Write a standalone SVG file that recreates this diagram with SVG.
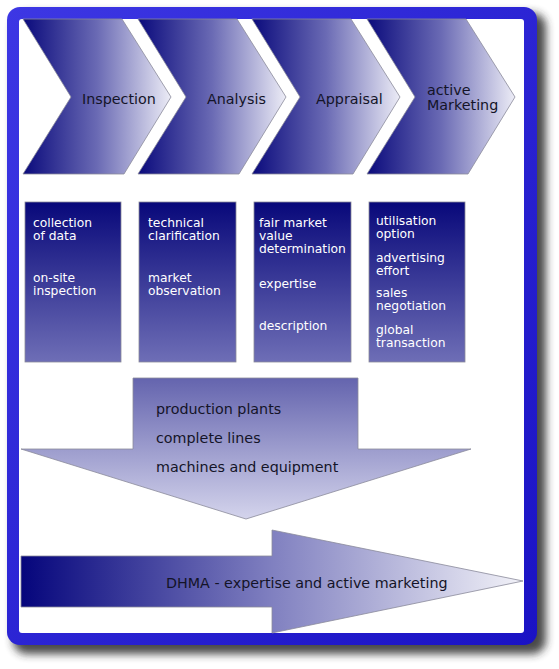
<svg xmlns="http://www.w3.org/2000/svg" width="559" height="669" viewBox="0 0 559 669">
<style>
.t{font-family:"DejaVu Sans","Verdana",sans-serif;font-size:14.3px;fill:#141428}
.b{font-family:"DejaVu Sans","Verdana",sans-serif;font-size:12.3px;fill:#ffffff}
.chev{fill:url(#gChev);stroke:#8a8a9a;stroke-width:0.8}
.box{fill:url(#gBox);stroke:#8a8a9a;stroke-width:0.8}
</style>
<defs>
<linearGradient id="gFrame" x1="0" y1="0" x2="1" y2="1">
<stop offset="0" stop-color="#3d37e4"/>
<stop offset="1" stop-color="#1a12c4"/>
</linearGradient>
<linearGradient id="gChev" x1="0" y1="0" x2="1" y2="0">
<stop offset="0" stop-color="#0a0a7c"/>
<stop offset="0.5" stop-color="#6a6ab4"/>
<stop offset="1" stop-color="#ececf6"/>
</linearGradient>
<linearGradient id="gBox" x1="0" y1="0" x2="0" y2="1">
<stop offset="0" stop-color="#08087a"/>
<stop offset="1" stop-color="#6e6eb6"/>
</linearGradient>
<linearGradient id="gDown" x1="0" y1="0" x2="0" y2="1">
<stop offset="0" stop-color="#6464ae"/>
<stop offset="1" stop-color="#d4d4ec"/>
</linearGradient>
<linearGradient id="gRight" x1="0" y1="0" x2="1" y2="0">
<stop offset="0" stop-color="#05057c"/>
<stop offset="0.5" stop-color="#8080c0"/>
<stop offset="1" stop-color="#f2f2f8"/>
</linearGradient>
<filter id="shadow" x="-5%" y="-5%" width="115%" height="115%">
<feGaussianBlur stdDeviation="4"/>
</filter>
</defs>

<g id="frame">
<rect x="13" y="13" width="533" height="641" rx="14" fill="#2a2a2a" opacity="0.85" filter="url(#shadow)"/>
<rect x="7" y="7" width="530" height="638" rx="13" fill="url(#gFrame)"/>
<rect x="19" y="19" width="505" height="614" rx="3" fill="#ffffff"/>
</g>

<g id="inspection">
<path class="chev" d="M23,19 L122,19 L171,97 L124,174 L23,174 L71,97 Z"/>
<text class="t" x="82" y="104">Inspection</text>
</g>
<g id="analysis">
<path class="chev" d="M138,19 L237,19 L286,97 L239,174 L138,174 L186,97 Z"/>
<text class="t" x="207" y="104">Analysis</text>
</g>
<g id="appraisal">
<path class="chev" d="M252,19 L351,19 L400,97 L353,174 L252,174 L300,97 Z"/>
<text class="t" x="316" y="104">Appraisal</text>
</g>
<g id="marketing">
<path class="chev" d="M367,19 L466,19 L515,97 L468,174 L367,174 L415,97 Z"/>
<text class="t" x="427" y="95">active</text>
<text class="t" x="427" y="110">Marketing</text>
</g>

<g id="box1">
<rect class="box" x="25" y="202" width="96" height="160"/>
<text class="b" x="33" y="227">collection</text>
<text class="b" x="33" y="240">of data</text>
<text class="b" x="33" y="282">on-site</text>
<text class="b" x="33" y="295">inspection</text>
</g>
<g id="box2">
<rect class="box" x="139" y="202" width="97" height="160"/>
<text class="b" x="148" y="227">technical</text>
<text class="b" x="148" y="240">clarification</text>
<text class="b" x="148" y="282">market</text>
<text class="b" x="148" y="295">observation</text>
</g>
<g id="box3">
<rect class="box" x="254" y="202" width="97" height="160"/>
<text class="b" x="259" y="227">fair market</text>
<text class="b" x="259" y="240">value</text>
<text class="b" x="259" y="253">determination</text>
<text class="b" x="259" y="288">expertise</text>
<text class="b" x="259" y="330">description</text>
</g>
<g id="box4">
<rect class="box" x="369" y="202" width="96" height="160"/>
<text class="b" x="376" y="225">utilisation</text>
<text class="b" x="376" y="238">option</text>
<text class="b" x="376" y="262">advertising</text>
<text class="b" x="376" y="275">effort</text>
<text class="b" x="376" y="297">sales</text>
<text class="b" x="376" y="310">negotiation</text>
<text class="b" x="376" y="334">global</text>
<text class="b" x="376" y="347">transaction</text>
</g>

<g id="objects">
<path d="M133,378 L358,378 L358,449 L471,449 L246,519 L21,449 L133,449 Z" fill="url(#gDown)" stroke="#8a8a9a" stroke-width="0.8"/>
<text class="t" x="156" y="414">production plants</text>
<text class="t" x="156" y="443">complete lines</text>
<text class="t" x="156" y="472">machines and equipment</text>
</g>

<g id="dhma">
<path d="M21,556 L272,556 L272,530 L523,581 L272,633 L272,607 L21,607 Z" fill="url(#gRight)" stroke="#8a8a9a" stroke-width="0.8"/>
<text class="t" x="166" y="588">DHMA - expertise and active marketing</text>
</g>
</svg>
